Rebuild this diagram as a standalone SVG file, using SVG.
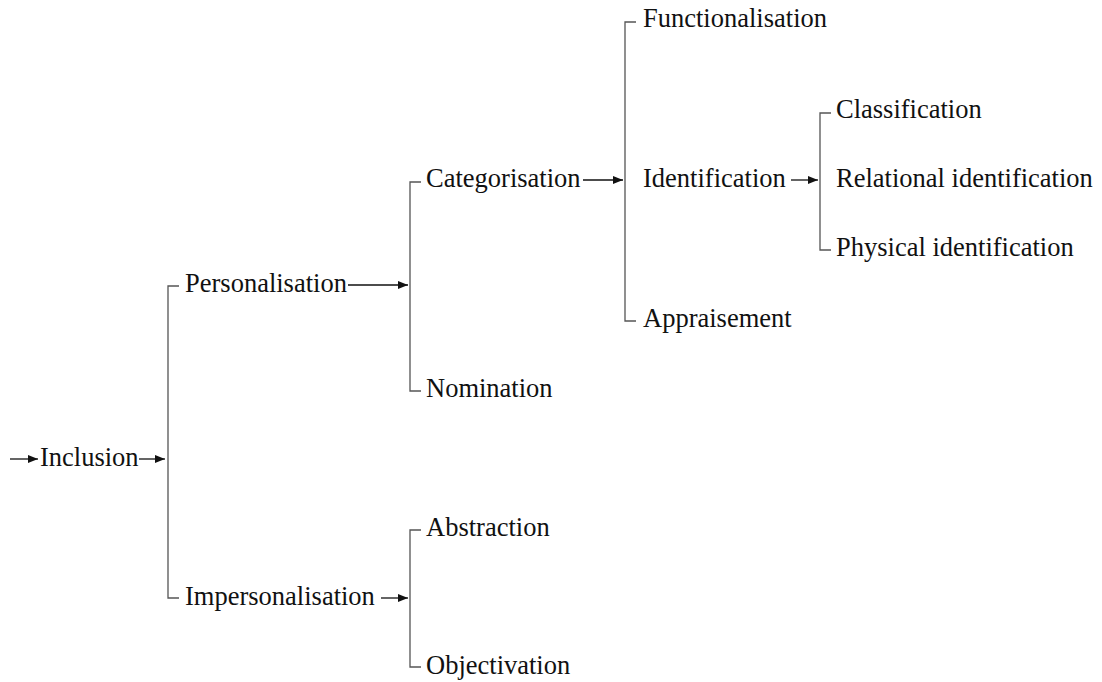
<svg xmlns="http://www.w3.org/2000/svg" width="1102" height="682" viewBox="0 0 1102 682">
<style>
text{font-family:"Liberation Serif","Times New Roman",serif;font-size:26.5px;fill:#111}
.br{fill:none;stroke:#555;stroke-width:1.3}
.ar{fill:none;stroke:#111;stroke-width:1.3;marker-end:url(#ah)}
</style>
<defs>
<marker id="ah" viewBox="0 0 10 8" refX="10" refY="4" markerWidth="10" markerHeight="8" markerUnits="userSpaceOnUse" orient="auto">
<path d="M0,0L10,4L0,8z" fill="#111"/>
</marker>
</defs>
<rect width="1102" height="682" fill="#fff"/>
<g id="connectors">
<line class="ar" x1="10" y1="459" x2="38" y2="459"/>
<line class="ar" x1="139" y1="459" x2="165" y2="459"/>
<path class="br" d="M179,286H168V598H179"/>
<line class="ar" x1="348" y1="285" x2="408" y2="285"/>
<path class="br" d="M421,182H410V391H421"/>
<line class="ar" x1="381" y1="598" x2="408" y2="598"/>
<path class="br" d="M421,530H410V667H421"/>
<line class="ar" x1="583" y1="180" x2="623" y2="180"/>
<path class="br" d="M636,22H625V321H636"/>
<line class="ar" x1="791" y1="180" x2="818" y2="180"/>
<path class="br" d="M831,113H820V250H831"/>
</g>
<g id="n-inclusion"><text x="40" y="466">Inclusion</text></g>
<g id="n-personalisation"><text x="185" y="292">Personalisation</text></g>
<g id="n-impersonalisation"><text x="185" y="605">Impersonalisation</text></g>
<g id="n-categorisation"><text x="426" y="187">Categorisation</text></g>
<g id="n-nomination"><text x="426" y="397">Nomination</text></g>
<g id="n-abstraction"><text x="426" y="536">Abstraction</text></g>
<g id="n-objectivation"><text x="426" y="674">Objectivation</text></g>
<g id="n-functionalisation"><text x="643" y="27">Functionalisation</text></g>
<g id="n-identification"><text x="643" y="187">Identification</text></g>
<g id="n-appraisement"><text x="643" y="327">Appraisement</text></g>
<g id="n-classification"><text x="836" y="118">Classification</text></g>
<g id="n-relational"><text x="836" y="187">Relational identification</text></g>
<g id="n-physical"><text x="836" y="256">Physical identification</text></g>
</svg>
